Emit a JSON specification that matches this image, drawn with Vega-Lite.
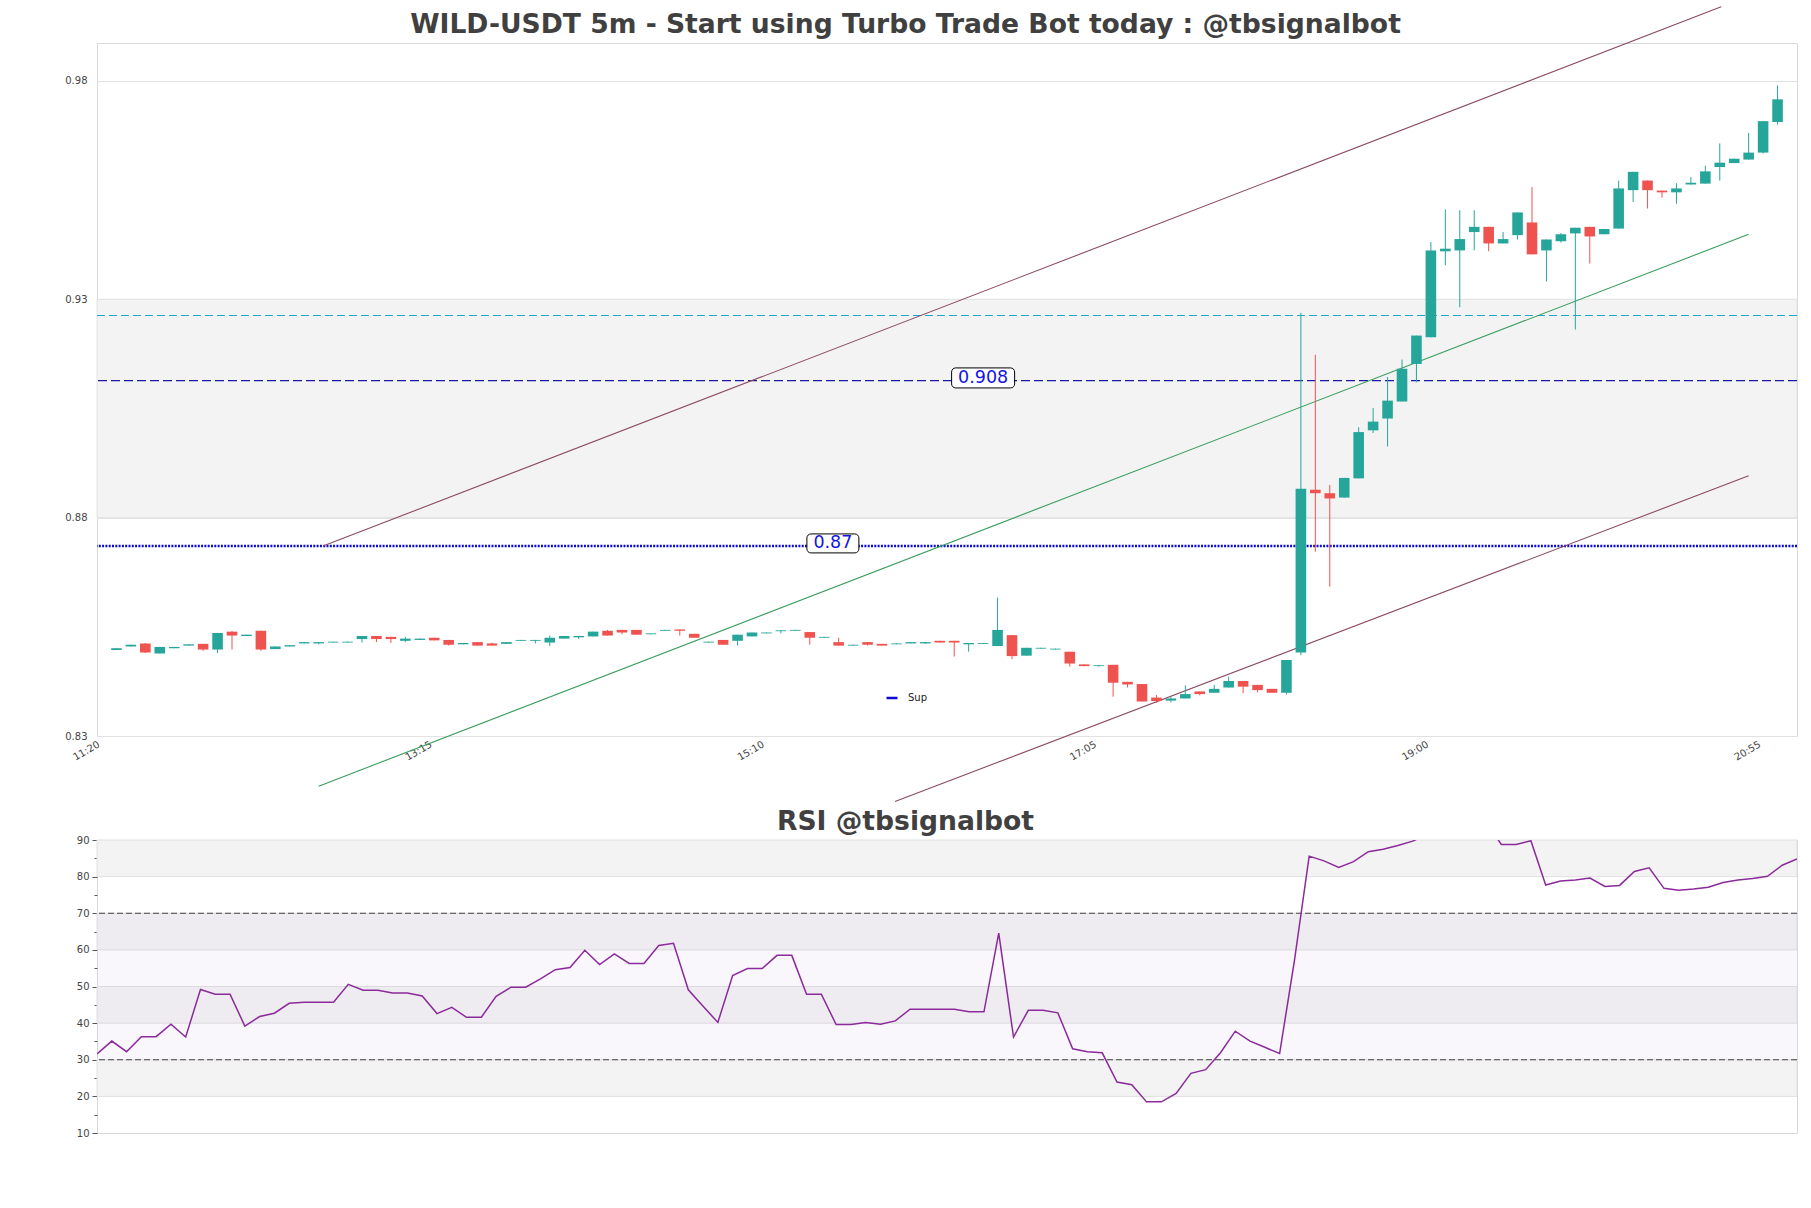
{
  "$schema": "https://vega.github.io/schema/vega-lite/v6.json",
  "background": "white",
  "padding": {"left": 64, "top": 4, "right": 10, "bottom": 10},
  "config": {
    "font": "DejaVu Sans",
    "view": {"stroke": "#d9d9d9", "strokeWidth": 1},
    "axis": {"labelFont": "DejaVu Sans", "labelColor": "#444444", "labelFontSize": 10, "domain": false}
  },
  "datasets": {
    "candles": [
      {"t":"2024-01-01 11:25","o":0.8497,"h":0.8501,"l":0.8497,"c":0.8501,"rsi":31.6},
      {"t":"2024-01-01 11:30","o":0.8505,"h":0.8509,"l":0.8505,"c":0.8509,"rsi":35.1},
      {"t":"2024-01-01 11:35","o":0.8512,"h":0.8513,"l":0.8490,"c":0.8491,"rsi":32.2},
      {"t":"2024-01-01 11:40","o":0.8489,"h":0.8504,"l":0.8489,"c":0.8504,"rsi":36.3},
      {"t":"2024-01-01 11:45","o":0.8501,"h":0.8504,"l":0.8501,"c":0.8504,"rsi":36.3},
      {"t":"2024-01-01 11:50","o":0.8507,"h":0.8510,"l":0.8507,"c":0.8510,"rsi":39.7},
      {"t":"2024-01-01 11:55","o":0.8511,"h":0.8511,"l":0.8495,"c":0.8498,"rsi":36.2},
      {"t":"2024-01-01 12:00","o":0.8498,"h":0.8536,"l":0.8490,"c":0.8536,"rsi":49.2},
      {"t":"2024-01-01 12:05","o":0.8539,"h":0.8540,"l":0.8498,"c":0.8530,"rsi":47.9},
      {"t":"2024-01-01 12:10","o":0.8529,"h":0.8532,"l":0.8529,"c":0.8532,"rsi":47.9},
      {"t":"2024-01-01 12:15","o":0.8541,"h":0.8541,"l":0.8495,"c":0.8498,"rsi":39.2},
      {"t":"2024-01-01 12:20","o":0.8499,"h":0.8505,"l":0.8499,"c":0.8505,"rsi":41.8},
      {"t":"2024-01-01 12:25","o":0.8505,"h":0.8508,"l":0.8505,"c":0.8508,"rsi":42.7},
      {"t":"2024-01-01 12:30","o":0.8512,"h":0.8515,"l":0.8512,"c":0.8515,"rsi":45.4},
      {"t":"2024-01-01 12:35","o":0.8512,"h":0.8515,"l":0.8510,"c":0.8515,"rsi":45.7},
      {"t":"2024-01-01 12:40","o":0.8514,"h":0.8516,"l":0.8514,"c":0.8516,"rsi":45.7},
      {"t":"2024-01-01 12:45","o":0.8514,"h":0.8516,"l":0.8514,"c":0.8516,"rsi":45.7},
      {"t":"2024-01-01 12:50","o":0.8522,"h":0.8529,"l":0.8514,"c":0.8529,"rsi":50.6},
      {"t":"2024-01-01 12:55","o":0.8529,"h":0.8529,"l":0.8515,"c":0.8522,"rsi":49.0},
      {"t":"2024-01-01 13:00","o":0.8527,"h":0.8527,"l":0.8513,"c":0.8522,"rsi":49.0},
      {"t":"2024-01-01 13:05","o":0.8518,"h":0.8527,"l":0.8515,"c":0.8523,"rsi":48.2},
      {"t":"2024-01-01 13:10","o":0.8520,"h":0.8523,"l":0.8520,"c":0.8523,"rsi":48.2},
      {"t":"2024-01-01 13:15","o":0.8525,"h":0.8525,"l":0.8519,"c":0.8519,"rsi":47.4},
      {"t":"2024-01-01 13:20","o":0.8520,"h":0.8520,"l":0.8507,"c":0.8509,"rsi":42.6},
      {"t":"2024-01-01 13:25","o":0.8510,"h":0.8513,"l":0.8510,"c":0.8513,"rsi":44.3},
      {"t":"2024-01-01 13:30","o":0.8515,"h":0.8515,"l":0.8507,"c":0.8507,"rsi":41.6},
      {"t":"2024-01-01 13:35","o":0.8512,"h":0.8514,"l":0.8507,"c":0.8507,"rsi":41.6},
      {"t":"2024-01-01 13:40","o":0.8511,"h":0.8515,"l":0.8511,"c":0.8515,"rsi":47.3},
      {"t":"2024-01-01 13:45","o":0.8518,"h":0.8520,"l":0.8518,"c":0.8520,"rsi":49.8},
      {"t":"2024-01-01 13:50","o":0.8518,"h":0.8520,"l":0.8512,"c":0.8520,"rsi":49.8},
      {"t":"2024-01-01 13:55","o":0.8514,"h":0.8530,"l":0.8506,"c":0.8525,"rsi":52.1},
      {"t":"2024-01-01 14:00","o":0.8523,"h":0.8529,"l":0.8523,"c":0.8529,"rsi":54.6},
      {"t":"2024-01-01 14:05","o":0.8526,"h":0.8529,"l":0.8522,"c":0.8529,"rsi":55.2},
      {"t":"2024-01-01 14:10","o":0.8528,"h":0.8539,"l":0.8528,"c":0.8539,"rsi":59.9},
      {"t":"2024-01-01 14:15","o":0.8541,"h":0.8543,"l":0.8530,"c":0.8530,"rsi":56.0},
      {"t":"2024-01-01 14:20","o":0.8543,"h":0.8543,"l":0.8533,"c":0.8537,"rsi":58.9},
      {"t":"2024-01-01 14:25","o":0.8543,"h":0.8543,"l":0.8532,"c":0.8532,"rsi":56.3},
      {"t":"2024-01-01 14:30","o":0.8533,"h":0.8535,"l":0.8533,"c":0.8535,"rsi":56.3},
      {"t":"2024-01-01 14:35","o":0.8541,"h":0.8543,"l":0.8541,"c":0.8543,"rsi":61.2},
      {"t":"2024-01-01 14:40","o":0.8544,"h":0.8544,"l":0.8530,"c":0.8541,"rsi":61.8},
      {"t":"2024-01-01 14:45","o":0.8534,"h":0.8534,"l":0.8525,"c":0.8525,"rsi":49.1},
      {"t":"2024-01-01 14:50","o":0.8514,"h":0.8516,"l":0.8514,"c":0.8516,"rsi":44.6},
      {"t":"2024-01-01 14:55","o":0.8520,"h":0.8520,"l":0.8509,"c":0.8509,"rsi":40.2},
      {"t":"2024-01-01 15:00","o":0.8518,"h":0.8532,"l":0.8507,"c":0.8532,"rsi":53.0},
      {"t":"2024-01-01 15:05","o":0.8528,"h":0.8537,"l":0.8528,"c":0.8537,"rsi":54.9},
      {"t":"2024-01-01 15:10","o":0.8535,"h":0.8537,"l":0.8535,"c":0.8537,"rsi":54.9},
      {"t":"2024-01-01 15:15","o":0.8540,"h":0.8542,"l":0.8535,"c":0.8542,"rsi":58.5},
      {"t":"2024-01-01 15:20","o":0.8541,"h":0.8543,"l":0.8541,"c":0.8543,"rsi":58.5},
      {"t":"2024-01-01 15:25","o":0.8538,"h":0.8538,"l":0.8509,"c":0.8525,"rsi":47.9},
      {"t":"2024-01-01 15:30","o":0.8525,"h":0.8527,"l":0.8525,"c":0.8527,"rsi":47.9},
      {"t":"2024-01-01 15:35","o":0.8515,"h":0.8525,"l":0.8507,"c":0.8507,"rsi":39.6},
      {"t":"2024-01-01 15:40","o":0.8507,"h":0.8509,"l":0.8507,"c":0.8509,"rsi":39.6},
      {"t":"2024-01-01 15:45","o":0.8515,"h":0.8515,"l":0.8507,"c":0.8509,"rsi":40.2},
      {"t":"2024-01-01 15:50","o":0.8511,"h":0.8511,"l":0.8507,"c":0.8507,"rsi":39.7},
      {"t":"2024-01-01 15:55","o":0.8510,"h":0.8512,"l":0.8510,"c":0.8512,"rsi":40.6},
      {"t":"2024-01-01 16:00","o":0.8512,"h":0.8515,"l":0.8512,"c":0.8515,"rsi":43.8},
      {"t":"2024-01-01 16:05","o":0.8512,"h":0.8515,"l":0.8511,"c":0.8515,"rsi":43.8},
      {"t":"2024-01-01 16:10","o":0.8518,"h":0.8518,"l":0.8514,"c":0.8514,"rsi":43.8},
      {"t":"2024-01-01 16:15","o":0.8518,"h":0.8518,"l":0.8482,"c":0.8514,"rsi":43.8},
      {"t":"2024-01-01 16:20","o":0.8510,"h":0.8513,"l":0.8493,"c":0.8513,"rsi":43.1},
      {"t":"2024-01-01 16:25","o":0.8511,"h":0.8513,"l":0.8511,"c":0.8513,"rsi":43.1},
      {"t":"2024-01-01 16:30","o":0.8506,"h":0.8617,"l":0.8506,"c":0.8543,"rsi":64.6},
      {"t":"2024-01-01 16:35","o":0.8531,"h":0.8531,"l":0.8476,"c":0.8483,"rsi":36.2},
      {"t":"2024-01-01 16:40","o":0.8484,"h":0.8502,"l":0.8484,"c":0.8502,"rsi":43.5},
      {"t":"2024-01-01 16:45","o":0.8500,"h":0.8502,"l":0.8500,"c":0.8502,"rsi":43.5},
      {"t":"2024-01-01 16:50","o":0.8498,"h":0.8500,"l":0.8498,"c":0.8500,"rsi":42.8},
      {"t":"2024-01-01 16:55","o":0.8493,"h":0.8493,"l":0.8459,"c":0.8466,"rsi":33.0},
      {"t":"2024-01-01 17:00","o":0.8464,"h":0.8464,"l":0.8460,"c":0.8460,"rsi":32.2},
      {"t":"2024-01-01 17:05","o":0.8460,"h":0.8462,"l":0.8459,"c":0.8462,"rsi":31.9},
      {"t":"2024-01-01 17:10","o":0.8463,"h":0.8463,"l":0.8390,"c":0.8422,"rsi":23.9},
      {"t":"2024-01-01 17:15","o":0.8424,"h":0.8424,"l":0.8411,"c":0.8418,"rsi":23.2},
      {"t":"2024-01-01 17:20","o":0.8419,"h":0.8419,"l":0.8379,"c":0.8379,"rsi":18.5},
      {"t":"2024-01-01 17:25","o":0.8388,"h":0.8394,"l":0.8376,"c":0.8380,"rsi":18.5},
      {"t":"2024-01-01 17:30","o":0.8381,"h":0.8390,"l":0.8377,"c":0.8386,"rsi":20.8},
      {"t":"2024-01-01 17:35","o":0.8386,"h":0.8416,"l":0.8386,"c":0.8396,"rsi":26.3},
      {"t":"2024-01-01 17:40","o":0.8402,"h":0.8402,"l":0.8393,"c":0.8396,"rsi":27.3},
      {"t":"2024-01-01 17:45","o":0.8399,"h":0.8417,"l":0.8399,"c":0.8408,"rsi":31.9},
      {"t":"2024-01-01 17:50","o":0.8411,"h":0.8436,"l":0.8411,"c":0.8426,"rsi":37.8},
      {"t":"2024-01-01 17:55","o":0.8426,"h":0.8426,"l":0.8398,"c":0.8413,"rsi":35.1},
      {"t":"2024-01-01 18:00","o":0.8417,"h":0.8417,"l":0.8400,"c":0.8405,"rsi":33.4},
      {"t":"2024-01-01 18:05","o":0.8408,"h":0.8408,"l":0.8399,"c":0.8399,"rsi":31.7},
      {"t":"2024-01-01 18:10","o":0.8399,"h":0.8474,"l":0.8395,"c":0.8474,"rsi":57.0},
      {"t":"2024-01-01 18:15","o":0.8491,"h":0.9269,"l":0.8485,"c":0.8866,"rsi":85.6},
      {"t":"2024-01-01 18:20","o":0.8864,"h":0.9173,"l":0.8722,"c":0.8856,"rsi":84.3},
      {"t":"2024-01-01 18:25","o":0.8856,"h":0.8875,"l":0.8642,"c":0.8844,"rsi":82.5},
      {"t":"2024-01-01 18:30","o":0.8846,"h":0.8891,"l":0.8846,"c":0.8891,"rsi":84.1},
      {"t":"2024-01-01 18:35","o":0.8890,"h":0.9007,"l":0.8890,"c":0.8996,"rsi":86.8},
      {"t":"2024-01-01 18:40","o":0.9000,"h":0.9051,"l":0.8994,"c":0.9020,"rsi":87.5},
      {"t":"2024-01-01 18:45","o":0.9027,"h":0.9122,"l":0.8963,"c":0.9068,"rsi":88.5},
      {"t":"2024-01-01 18:50","o":0.9066,"h":0.9162,"l":0.9066,"c":0.9141,"rsi":89.7},
      {"t":"2024-01-01 18:55","o":0.9152,"h":0.9217,"l":0.9110,"c":0.9217,"rsi":91.5},
      {"t":"2024-01-01 19:00","o":0.9213,"h":0.9431,"l":0.9213,"c":0.9412,"rsi":94.5},
      {"t":"2024-01-01 19:05","o":0.9410,"h":0.9506,"l":0.9378,"c":0.9416,"rsi":94.0},
      {"t":"2024-01-01 19:10","o":0.9412,"h":0.9504,"l":0.9282,"c":0.9438,"rsi":94.3},
      {"t":"2024-01-01 19:15","o":0.9454,"h":0.9504,"l":0.9412,"c":0.9466,"rsi":94.6},
      {"t":"2024-01-01 19:20","o":0.9466,"h":0.9466,"l":0.9410,"c":0.9428,"rsi":88.8},
      {"t":"2024-01-01 19:25","o":0.9428,"h":0.9454,"l":0.9428,"c":0.9438,"rsi":88.8},
      {"t":"2024-01-01 19:30","o":0.9447,"h":0.9499,"l":0.9437,"c":0.9499,"rsi":89.8},
      {"t":"2024-01-01 19:35","o":0.9476,"h":0.9557,"l":0.9403,"c":0.9403,"rsi":77.7},
      {"t":"2024-01-01 19:40","o":0.9412,"h":0.9437,"l":0.9341,"c":0.9437,"rsi":78.8},
      {"t":"2024-01-01 19:45","o":0.9433,"h":0.9452,"l":0.9430,"c":0.9449,"rsi":79.1},
      {"t":"2024-01-01 19:50","o":0.9451,"h":0.9464,"l":0.9231,"c":0.9464,"rsi":79.6},
      {"t":"2024-01-01 19:55","o":0.9466,"h":0.9466,"l":0.9382,"c":0.9444,"rsi":77.3},
      {"t":"2024-01-01 20:00","o":0.9449,"h":0.9461,"l":0.9449,"c":0.9461,"rsi":77.6},
      {"t":"2024-01-01 20:05","o":0.9462,"h":0.9572,"l":0.9462,"c":0.9554,"rsi":81.4},
      {"t":"2024-01-01 20:10","o":0.9550,"h":0.9592,"l":0.9523,"c":0.9592,"rsi":82.4},
      {"t":"2024-01-01 20:15","o":0.9572,"h":0.9572,"l":0.9508,"c":0.9550,"rsi":76.8},
      {"t":"2024-01-01 20:20","o":0.9549,"h":0.9549,"l":0.9533,"c":0.9545,"rsi":76.3},
      {"t":"2024-01-01 20:25","o":0.9545,"h":0.9566,"l":0.9519,"c":0.9554,"rsi":76.6},
      {"t":"2024-01-01 20:30","o":0.9563,"h":0.9580,"l":0.9563,"c":0.9567,"rsi":77.1},
      {"t":"2024-01-01 20:35","o":0.9565,"h":0.9606,"l":0.9565,"c":0.9593,"rsi":78.4},
      {"t":"2024-01-01 20:40","o":0.9603,"h":0.9657,"l":0.9572,"c":0.9613,"rsi":79.1},
      {"t":"2024-01-01 20:45","o":0.9612,"h":0.9622,"l":0.9612,"c":0.9622,"rsi":79.5},
      {"t":"2024-01-01 20:50","o":0.9620,"h":0.9681,"l":0.9620,"c":0.9636,"rsi":80.1},
      {"t":"2024-01-01 20:55","o":0.9636,"h":0.9708,"l":0.9634,"c":0.9708,"rsi":83.1},
      {"t":"2024-01-01 21:00","o":0.9706,"h":0.9790,"l":0.9700,"c":0.9758,"rsi":84.8}
    ],
    "trend": [
      {"line":"up","t":"2024-01-01 12:36:30","p":0.8735},
      {"line":"up","t":"2024-01-01 20:40:30","p":0.9970},
      {"line":"mid","t":"2024-01-01 12:35","p":0.8185},
      {"line":"mid","t":"2024-01-01 20:50","p":0.9449},
      {"line":"low","t":"2024-01-01 15:54:30","p":0.8150},
      {"line":"low","t":"2024-01-01 20:50","p":0.8896}
    ],
    "sup": [{"name":"Sup","p":0.8735}],
    "res": [{"p":0.9114}],
    "level": [{"p":0.9263}],
    "labels": [
      {"label":"0.908","t":"2024-01-01 16:25","p":0.9120},
      {"label":"0.87","t":"2024-01-01 15:33","p":0.8741}
    ],
    "mainBand": [{"lo":0.88,"hi":0.93}],
    "rsiBands": [{"lo":20,"hi":30},{"lo":40,"hi":50},{"lo":60,"hi":70},{"lo":80,"hi":90}],
    "rsiZone": [{"lo":30,"hi":70}],
    "rsiLevels": [{"v":30},{"v":70}]
  },
  "bounds": "flush",
  "spacing": 104,
  "vconcat": [
    {
      "width": 1700,
      "height": 693,
      "title": {"text": "WILD-USDT 5m - Start using Turbo Trade Bot today : @tbsignalbot", "fontSize": 26.6, "fontWeight": "bold", "color": "#404040", "font": "DejaVu Sans", "anchor": "middle", "frame": "group", "baseline": "alphabetic", "offset": -28, "dx": -41.5, "dy": 27.2},
      "layer": [
        {
          "data": {"name": "mainBand"},
          "mark": {"type": "rect", "fill": "#f3f3f3", "stroke": "#e2e2e2", "strokeWidth": 1},
          "encoding": {
            "y": {"field": "lo", "type": "quantitative", "scale": {"domain": [0.83, 0.9887], "nice": false, "zero": false},
                  "axis": {"title": null, "values": [0.83, 0.88, 0.93, 0.98], "format": ".2f", "ticks": false, "labelPadding": 10, "grid": true, "gridColor": "#e2e2e2", "domain": false}},
            "y2": {"field": "hi"}
          }
        },
        {
          "data": {"name": "level"},
          "mark": {"type": "rule", "color": "#1ea6d2", "strokeWidth": 1.2, "strokeDash": [8, 4]},
          "encoding": {"y": {"field": "p", "type": "quantitative", "scale": {"domain": [0.83, 0.9887], "nice": false, "zero": false}}}
        },
        {
          "data": {"name": "res"},
          "mark": {"type": "rule", "color": "#1a1aa6", "strokeWidth": 1.3, "strokeDash": [9, 4]},
          "encoding": {"y": {"field": "p", "type": "quantitative", "scale": {"domain": [0.83, 0.9887], "nice": false, "zero": false}}}
        },
        {
          "data": {"name": "sup"},
          "mark": {"type": "rule", "strokeWidth": 2.6, "strokeDash": [2, 1.3]},
          "encoding": {
            "y": {"field": "p", "type": "quantitative", "scale": {"domain": [0.83, 0.9887], "nice": false, "zero": false}},
            "color": {"field": "name", "type": "nominal", "scale": {"domain": ["Sup"], "range": ["#0a0ad0"]},
                      "legend": {"title": null, "orient": "none", "legendX": 788, "legendY": 648, "symbolType": "stroke", "symbolSize": 121, "symbolStrokeWidth": 2.5, "symbolDash": [1, 0], "labelFontSize": 10, "labelFont": "DejaVu Sans", "labelColor": "#222222", "labelOffset": 9, "padding": 0}}
          }
        },
        {
          "data": {"name": "trend"},
          "mark": {"type": "line", "strokeWidth": 1.1, "clip": false},
          "encoding": {
            "x": {"field": "t", "type": "temporal", "scale": {"domain": [{"year": 2024, "month": 1, "date": 1, "hours": 11, "minutes": 20}, {"year": 2024, "month": 1, "date": 1, "hours": 21, "minutes": 5}]}},
            "y": {"field": "p", "type": "quantitative", "scale": {"domain": [0.83, 0.9887], "nice": false, "zero": false}},
            "detail": {"field": "line"},
            "color": {"condition": {"test": "datum.line === 'mid'", "value": "#3a9e5f"}, "value": "#8c4a62"}
          }
        },
        {
          "data": {"name": "candles"},
          "mark": {"type": "rule", "strokeWidth": 1},
          "encoding": {
            "x": {"field": "t", "type": "temporal", "scale": {"domain": [{"year": 2024, "month": 1, "date": 1, "hours": 11, "minutes": 20}, {"year": 2024, "month": 1, "date": 1, "hours": 21, "minutes": 5}]}},
            "y": {"field": "l", "type": "quantitative", "scale": {"domain": [0.83, 0.9887], "nice": false, "zero": false}},
            "y2": {"field": "h"},
            "color": {"condition": {"test": "datum.c >= datum.o", "value": "#26a69a"}, "value": "#ef5350"}
          }
        },
        {
          "data": {"name": "candles"},
          "mark": {"type": "bar", "size": 10.6},
          "encoding": {
            "x": {"field": "t", "type": "temporal", "scale": {"domain": [{"year": 2024, "month": 1, "date": 1, "hours": 11, "minutes": 20}, {"year": 2024, "month": 1, "date": 1, "hours": 21, "minutes": 5}]},
                  "axis": {"title": null, "values": [
                    {"year": 2024, "month": 1, "date": 1, "hours": 11, "minutes": 20},
                    {"year": 2024, "month": 1, "date": 1, "hours": 13, "minutes": 15},
                    {"year": 2024, "month": 1, "date": 1, "hours": 15, "minutes": 10},
                    {"year": 2024, "month": 1, "date": 1, "hours": 17, "minutes": 5},
                    {"year": 2024, "month": 1, "date": 1, "hours": 19, "minutes": 0},
                    {"year": 2024, "month": 1, "date": 1, "hours": 20, "minutes": 55}],
                    "format": "%H:%M", "labelAngle": -30, "ticks": false, "labelPadding": 3, "labelOffset": -6, "grid": false, "domain": false, "labelOverlap": false, "labelFlush": false, "labelBound": false}},
            "y": {"field": "o", "type": "quantitative", "scale": {"domain": [0.83, 0.9887], "nice": false, "zero": false}},
            "y2": {"field": "c"},
            "color": {"condition": {"test": "datum.c >= datum.o", "value": "#26a69a"}, "value": "#ef5350"}
          }
        },
        {
          "data": {"name": "labels"},
          "transform": [{"filter": "datum.label === '0.908'"}],
          "mark": {"type": "point", "shape": "M-0.873,-0.3175L0.873,-0.3175A0.127,0.127,0,0,1,1,-0.1905L1,0.1905A0.127,0.127,0,0,1,0.873,0.3175L-0.873,0.3175A0.127,0.127,0,0,1,-1,0.1905L-1,-0.1905A0.127,0.127,0,0,1,-0.873,-0.3175Z", "size": 3969, "filled": true, "fill": "white", "stroke": "black", "strokeWidth": 1, "opacity": 1, "fillOpacity": 1, "strokeOpacity": 1},
          "encoding": {
            "x": {"field": "t", "type": "temporal", "scale": {"domain": [{"year": 2024, "month": 1, "date": 1, "hours": 11, "minutes": 20}, {"year": 2024, "month": 1, "date": 1, "hours": 21, "minutes": 5}]}},
            "y": {"field": "p", "type": "quantitative", "scale": {"domain": [0.83, 0.9887], "nice": false, "zero": false}}
          }
        },
        {
          "data": {"name": "labels"},
          "transform": [{"filter": "datum.label === '0.87'"}],
          "mark": {"type": "point", "shape": "M-0.846,-0.365L0.846,-0.365A0.154,0.154,0,0,1,1,-0.211L1,0.211A0.154,0.154,0,0,1,0.846,0.365L-0.846,0.365A0.154,0.154,0,0,1,-1,0.211L-1,-0.211A0.154,0.154,0,0,1,-0.846,-0.365Z", "size": 2704, "filled": true, "fill": "white", "stroke": "black", "strokeWidth": 1, "opacity": 1, "fillOpacity": 1, "strokeOpacity": 1},
          "encoding": {
            "x": {"field": "t", "type": "temporal", "scale": {"domain": [{"year": 2024, "month": 1, "date": 1, "hours": 11, "minutes": 20}, {"year": 2024, "month": 1, "date": 1, "hours": 21, "minutes": 5}]}},
            "y": {"field": "p", "type": "quantitative", "scale": {"domain": [0.83, 0.9887], "nice": false, "zero": false}}
          }
        },
        {
          "data": {"name": "labels"},
          "mark": {"type": "text", "fontSize": 17.5, "font": "DejaVu Sans", "color": "#1414e6", "align": "center", "baseline": "middle"},
          "encoding": {
            "x": {"field": "t", "type": "temporal", "scale": {"domain": [{"year": 2024, "month": 1, "date": 1, "hours": 11, "minutes": 20}, {"year": 2024, "month": 1, "date": 1, "hours": 21, "minutes": 5}]}},
            "y": {"field": "p", "type": "quantitative", "scale": {"domain": [0.83, 0.9887], "nice": false, "zero": false}},
            "text": {"field": "label"}
          }
        }
      ]
    },
    {
      "width": 1700,
      "height": 293,
      "title": {"text": "RSI @tbsignalbot", "fontSize": 26.6, "fontWeight": "bold", "color": "#404040", "font": "DejaVu Sans", "anchor": "middle", "frame": "group", "baseline": "alphabetic", "offset": -21.6, "dx": -41.5},
      "resolve": {"axis": {"y": "independent"}},
      "layer": [
        {
          "data": {"name": "rsiBands"},
          "mark": {"type": "rect", "fill": "#f3f3f3", "stroke": "#e0e0e0", "strokeWidth": 1},
          "encoding": {
            "y": {"field": "lo", "type": "quantitative", "scale": {"domain": [10, 90], "nice": false, "zero": false},
                  "axis": {"title": null, "orient": "left", "values": [10, 20, 30, 40, 50, 60, 70, 80, 90], "labelOverlap": false, "labelBound": false, "tickSize": 5, "tickColor": "#555555", "labelPadding": 3, "grid": false, "domain": false}},
            "y2": {"field": "hi"}
          }
        },
        {
          "data": {"name": "rsiZone"},
          "mark": {"type": "rect", "fill": "#b89cc8", "opacity": 0.08},
          "encoding": {
            "y": {"field": "lo", "type": "quantitative", "scale": {"domain": [10, 90], "nice": false, "zero": false},
                  "axis": {"title": null, "orient": "left", "values": [15, 25, 35, 45, 55, 65, 75, 85], "labels": false, "tickSize": 3, "tickColor": "#555555", "grid": false, "domain": false}},
            "y2": {"field": "hi"}
          }
        },
        {
          "data": {"name": "rsiLevels"},
          "mark": {"type": "rule", "color": "#444444", "strokeWidth": 1.2, "strokeDash": [6, 3]},
          "encoding": {"y": {"field": "v", "type": "quantitative", "scale": {"domain": [10, 90], "nice": false, "zero": false}, "axis": null}}
        },
        {
          "data": {"name": "candles"},
          "mark": {"type": "line", "color": "#8b2a9b", "strokeWidth": 1.5, "clip": true},
          "encoding": {
            "x": {"field": "t", "type": "temporal", "scale": {"domain": [{"year": 2024, "month": 1, "date": 1, "hours": 11, "minutes": 25}, {"year": 2024, "month": 1, "date": 1, "hours": 21, "minutes": 0}]}, "axis": null},
            "y": {"field": "rsi", "type": "quantitative", "scale": {"domain": [10, 90], "nice": false, "zero": false}, "axis": null}
          }
        }
      ]
    }
  ]
}
